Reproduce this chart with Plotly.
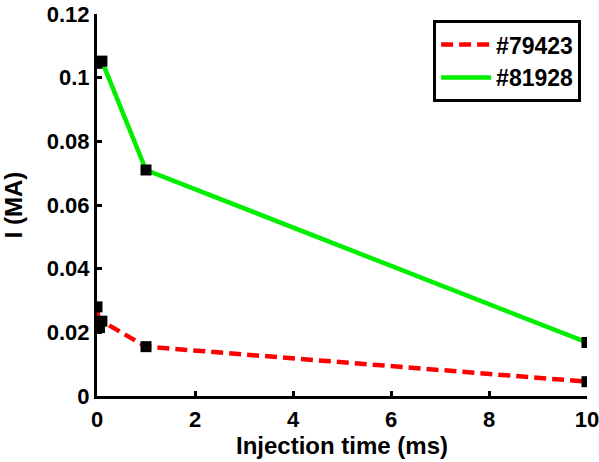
import plotly.graph_objects as go

x_79423 = [0, 0.05, 0.1, 1, 10]
y_79423 = [0.028, 0.0215, 0.0235, 0.0155, 0.0045]
x_81928 = [0, 0.1, 1, 10]
y_81928 = [0.1045, 0.1052, 0.071, 0.0168]

xticks = [0, 2, 4, 6, 8, 10]
yticks = [0, 0.02, 0.04, 0.06, 0.08, 0.1, 0.12]
yticklabels = ["0", "0.02", "0.04", "0.06", "0.08", "0.1", "0.12"]

font_family = "Liberation Sans, Arial, sans-serif"

fig = go.Figure()
series = [
    ("#79423", x_79423, y_79423, dict(color="#ff0000", width=4.5, dash="12px,6px")),
    ("#81928", x_81928, y_81928, dict(color="#00ee00", width=4.5)),
]
for name, xs, ys, ln in series:
    fig.add_trace(go.Scatter(x=xs, y=ys, name=name, mode="lines", line=ln))
for name, xs, ys, ln in series:
    fig.add_trace(go.Scatter(
        x=xs, y=ys, name=name, mode="markers", showlegend=False,
        marker=dict(symbol="square", size=11, color="black"),
    ))

axis_common = dict(
    showline=True, linecolor="black", linewidth=3,
    ticks="inside", ticklen=5, tickwidth=3, tickcolor="black",
    showgrid=False, zeroline=False, mirror=False, automargin=False,
    ticklabeloverflow="allow",
    tickfont=dict(family=font_family, size=22, color="black", weight="bold"),
)

fig.update_xaxes(range=[0, 10], tickvals=xticks, ticklabelstandoff=2, **axis_common,
                 title=dict(text="Injection time (ms)", standoff=0,
                            font=dict(family=font_family, size=24, color="black", weight="bold")))
fig.update_yaxes(range=[0, 0.12], tickvals=yticks, ticktext=yticklabels, **axis_common,
                 title=dict(text="I (MA)", standoff=18,
                            font=dict(family=font_family, size=24, color="black", weight="bold")))

fig.update_layout(
    width=599, height=462,
    margin=dict(l=97, r=12, t=14, b=66),
    plot_bgcolor="white", paper_bgcolor="white",
    showlegend=True,
    legend=dict(
        x=0.988, y=0.984, xanchor="right", yanchor="top",
        bgcolor="white", bordercolor="black", borderwidth=3,
        font=dict(family=font_family, size=23, color="black", weight="bold"),
        itemwidth=50, tracegroupgap=0,
    ),
)

fig.write_html("out.html", config={"displayModeBar": False},
               post_script="document.body.style.margin='0';")
